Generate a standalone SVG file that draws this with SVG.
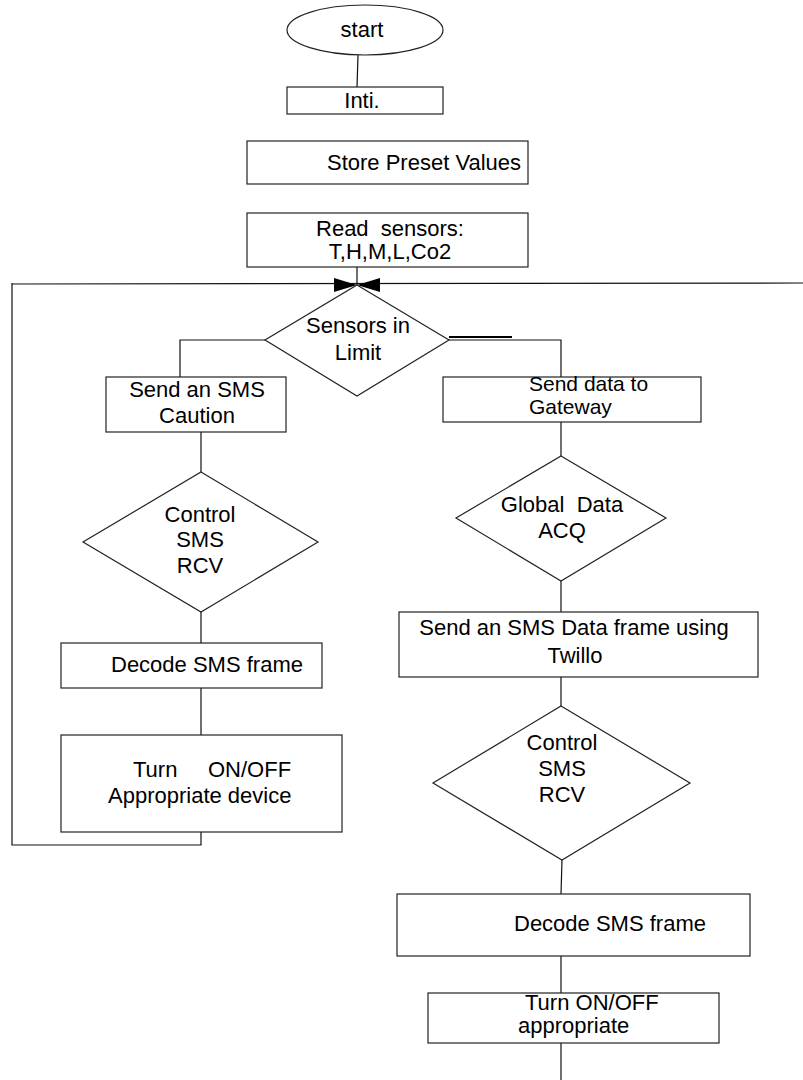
<svg xmlns="http://www.w3.org/2000/svg" width="803" height="1080" viewBox="0 0 803 1080">
<style>
.s{fill:#fff;stroke:#222;stroke-width:1.2}
.c{fill:none;stroke:#111;stroke-width:1.2}
text{font-family:"Liberation Sans",Arial,sans-serif;font-size:22px;fill:#000;white-space:pre}
.m{text-anchor:middle}
.g{font-size:21px}
</style>
<rect width="803" height="1080" fill="#fff"/>
<g id="connectors">
<path class="c" d="M358 55 L357 87"/>
<path class="c" d="M357 267 L357 285"/>
<path class="c" d="M12 284 L803 283"/>
<path class="c" d="M12 283 L12 845 L201 845 L201 832"/>
<path class="c" d="M265 340 L180 340 L180 377"/>
<path class="c" d="M449 340 L561 340 L561 377"/>
<path fill="none" stroke="#000" stroke-width="2.2" d="M449 337 L512 337"/>
<path class="c" d="M201 432 L201 472"/>
<path class="c" d="M201 612 L201 643"/>
<path class="c" d="M201 688 L201 735"/>
<path class="c" d="M561 422 L561 456"/>
<path class="c" d="M561 581 L561 612"/>
<path class="c" d="M561 677 L561 706"/>
<path class="c" d="M562 860 L561 894"/>
<path class="c" d="M561 956 L561 993"/>
<path class="c" d="M561 1043 L561 1080"/>
<path fill="#000" d="M334 278 L334 292 L357 285 Z M380 278 L380 292 L357 285 Z"/>
</g>
<g id="start">
<ellipse class="s" cx="365" cy="30" rx="78" ry="25"/>
<text class="m" x="362" y="37">start</text>
</g>
<g id="inti">
<rect class="s" x="287" y="87" width="156" height="27"/>
<text class="m" x="362" y="108">Inti.</text>
</g>
<g id="store">
<rect class="s" x="247" y="141" width="281" height="43"/>
<text x="327" y="170">Store Preset Values</text>
</g>
<g id="read">
<rect class="s" x="247" y="213" width="281" height="54"/>
<text class="m" x="390" y="236" xml:space="preserve">Read  sensors:</text>
<text class="m" x="390" y="259">T,H,M,L,Co2</text>
</g>
<g id="limit">
<polygon class="s" points="357,285 449,340 357,396 265,340"/>
<text class="m" x="358" y="333">Sensors in</text>
<text class="m" x="358" y="360">Limit</text>
</g>
<g id="caution">
<rect class="s" x="106" y="377" width="180" height="55"/>
<text class="m" x="197" y="397">Send an SMS</text>
<text class="m" x="197" y="423">Caution</text>
</g>
<g id="gateway">
<rect class="s" x="443" y="377" width="258" height="45"/>
<text class="g" x="529" y="391">Send data to</text>
<text class="g" x="529" y="414">Gateway</text>
</g>
<g id="controlL">
<polygon class="s" points="201,472 318,542 201,612 83,542"/>
<text class="m" x="200" y="522">Control</text>
<text class="m" x="200" y="547">SMS</text>
<text class="m" x="200" y="573">RCV</text>
</g>
<g id="decodeL">
<rect class="s" x="61" y="643" width="261" height="45"/>
<text x="111" y="672">Decode SMS frame</text>
</g>
<g id="turnL">
<rect class="s" x="61" y="735" width="281" height="97"/>
<text x="133" y="777" xml:space="preserve">Turn     ON/OFF</text>
<text x="108" y="803">Appropriate device</text>
</g>
<g id="global">
<polygon class="s" points="561,456 666,518 561,581 456,518"/>
<text class="m" x="562" y="512" xml:space="preserve">Global  Data</text>
<text class="m" x="562" y="538">ACQ</text>
</g>
<g id="twillo">
<rect class="s" x="399" y="612" width="359" height="65"/>
<text class="m" x="574" y="635">Send an SMS Data frame using</text>
<text class="m" x="575" y="663">Twillo</text>
</g>
<g id="controlR">
<polygon class="s" points="561,706 690,783 562,860 433,783"/>
<text class="m" x="562" y="750">Control</text>
<text class="m" x="562" y="776">SMS</text>
<text class="m" x="562" y="802">RCV</text>
</g>
<g id="decodeR">
<rect class="s" x="397" y="894" width="353" height="62"/>
<text x="514" y="931">Decode SMS frame</text>
</g>
<g id="turnR">
<rect class="s" x="428" y="993" width="291" height="50"/>
<text x="525" y="1010">Turn ON/OFF</text>
<text x="518" y="1033">appropriate</text>
</g>
</svg>
